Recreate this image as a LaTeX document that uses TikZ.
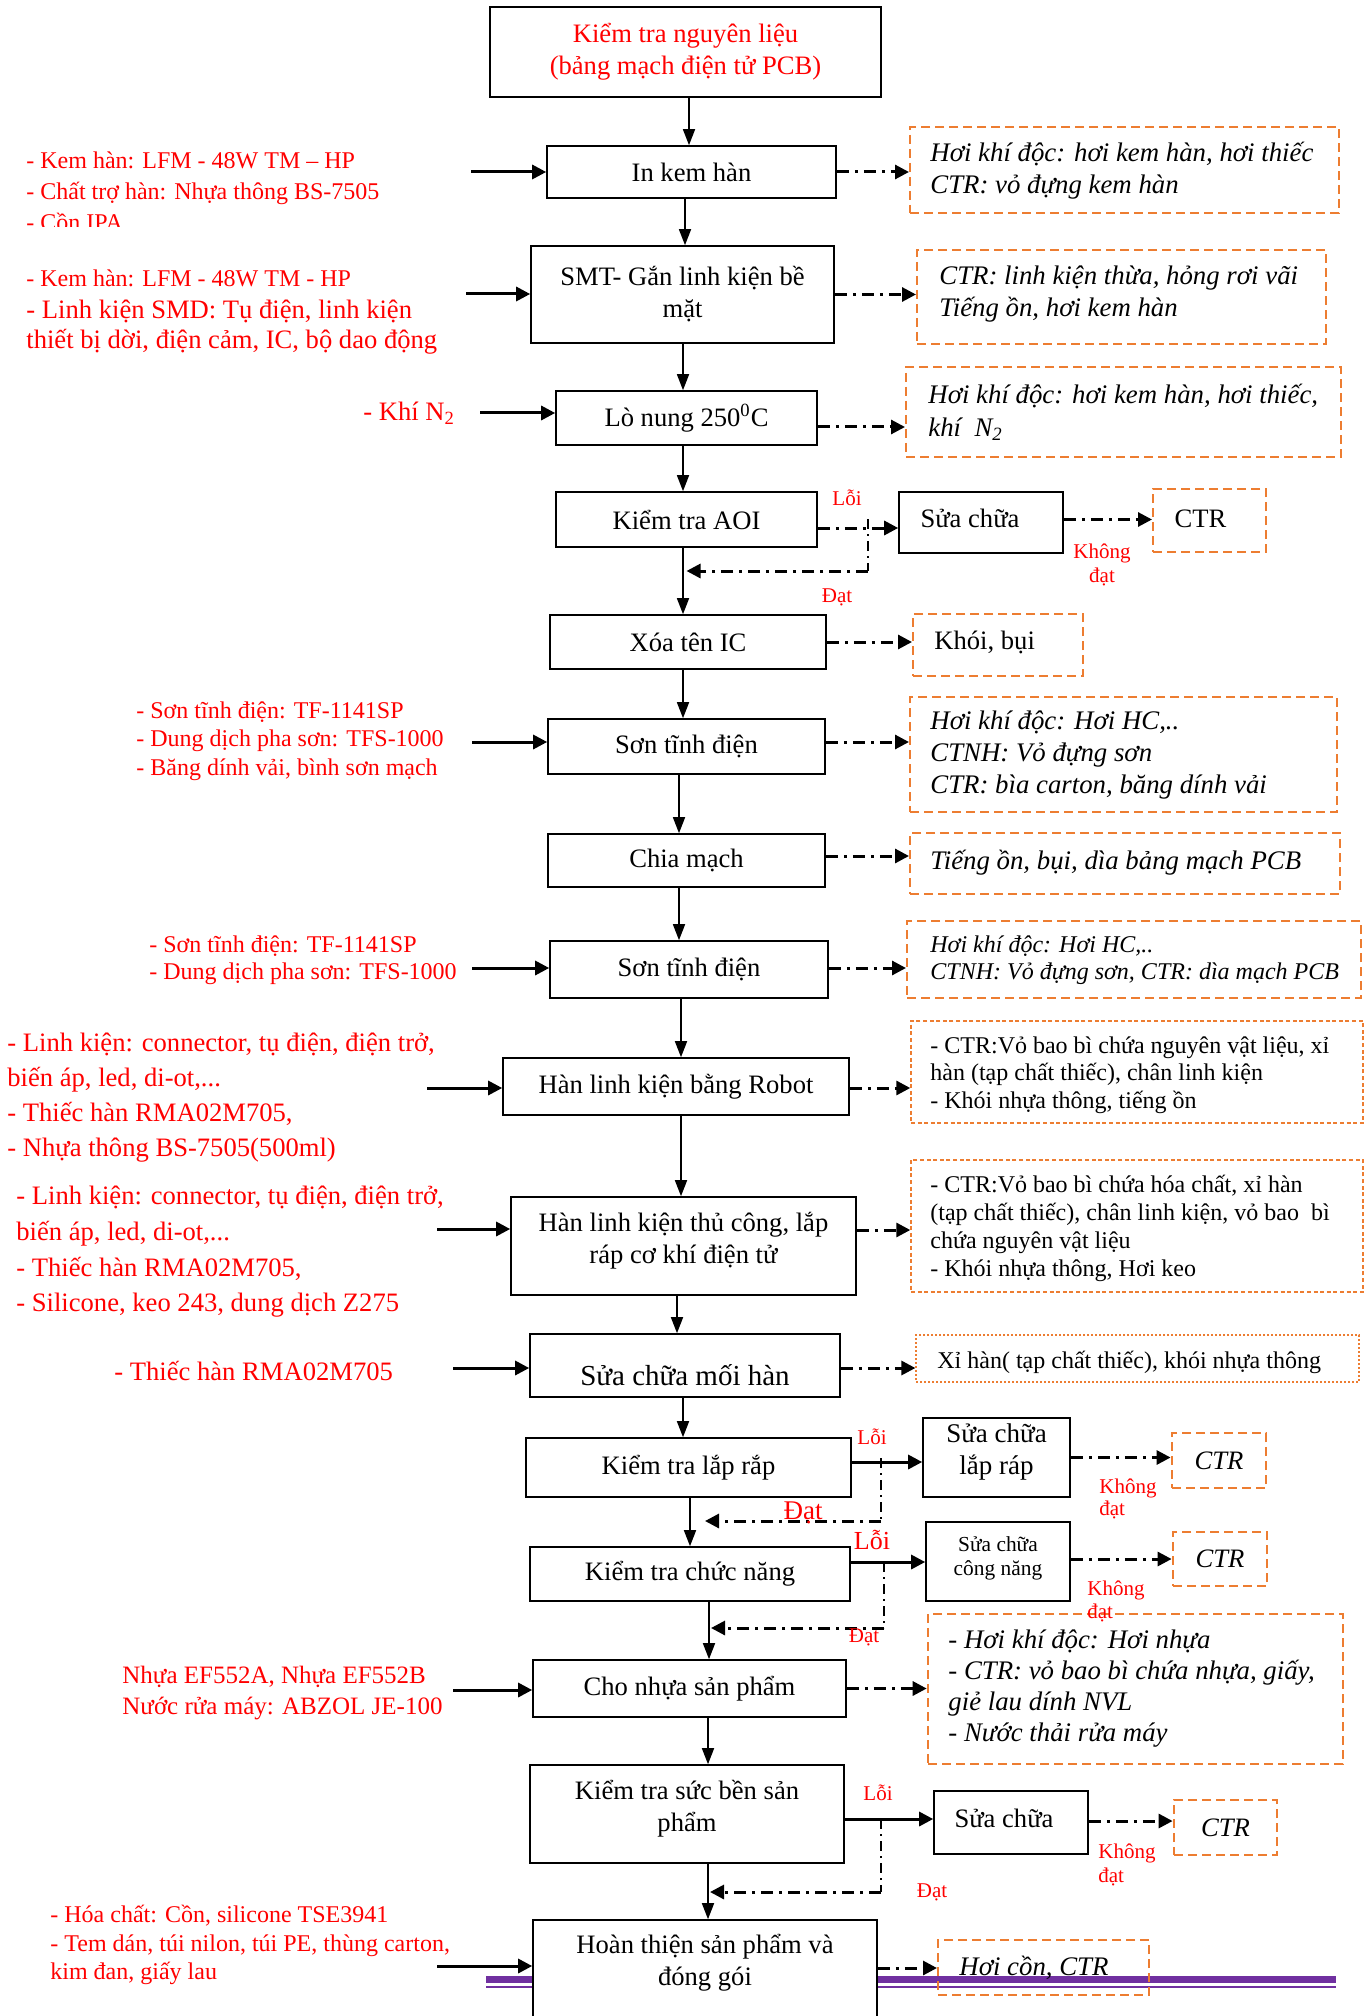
\documentclass[tikz,border=0pt]{standalone}
\usepackage{fontspec}
\setmainfont{Liberation Serif}
\usetikzlibrary{arrows.meta,fit,calc}
\definecolor{ored}{HTML}{FF0000}
\definecolor{oorange}{HTML}{ED7D31}
\definecolor{opurple}{HTML}{7030A0}
\newcommand\fMain{\fontsize{13.3}{16}\selectfont}
\newcommand\fBig{\fontsize{14.5}{17}\selectfont}
\newcommand\fOut{\fontsize{13.4}{16}\selectfont}
\newcommand\fOutS{\fontsize{12}{13.7}\selectfont}
\newcommand\fLab{\fontsize{10.5}{12}\selectfont}
\newcommand\fSmall{\fontsize{10.7}{11.7}\selectfont}
\begin{document}
\begin{tikzpicture}[x=0.5pt,y=-0.5pt,
  box/.style={draw,line width=0.8pt,fill=white,inner sep=0pt},
  btext/.style={inner sep=0pt,align=center,font=\fMain},
  obox/.style={draw=oorange,line width=1pt,dash pattern=on 4.5pt off 2.5pt,inner sep=0pt},
  cbox/.style={draw=oorange,line width=1.4pt,dash pattern=on 4.5pt off 2.5pt,inner sep=0pt},
  fbox/.style={draw=oorange,line width=0.7pt,dash pattern=on 2pt off 1.3pt,inner sep=0pt},
  dbox/.style={draw=oorange,line width=0.6pt,dash pattern=on 1pt off 1pt,inner sep=0pt},
  intext/.style={text=ored,anchor=west,align=left,inner sep=0pt},
  outtext/.style={anchor=west,align=left,inner sep=0pt,font=\fOut\itshape},
  lab/.style={text=ored,font=\fLab,inner sep=0pt,align=left},
  flow/.style={-{Triangle[width=6pt,length=8pt]},line width=0.8pt},
  feed/.style={-{Triangle[width=7pt,length=7pt]},line width=1.5pt},
  emit/.style={-{Triangle[width=7pt,length=7pt]},line width=1.5pt,dash pattern=on 6pt off 3pt on 1.5pt off 3pt},
  back/.style={line width=0.7pt,dash pattern=on 5pt off 2.5pt on 1pt off 2.5pt},
]
\fill[white] (0,0) rectangle (1365,2016);
\clip (0,0) rectangle (1365,2016);

% purple rule at the foot of the page
\fill[opurple] (486,1976) rectangle (1336,1983);
\fill[opurple] (486,1986) rectangle (1336,1988);

% ---------- process steps ----------
\node[box,fit={(490,7)(881,97)}] (b1) {};
\node[btext,text=ored] (t1) at (b1) {Kiểm tra nguyên liệu\\(bảng mạch điện tử PCB)};
\node[box,fit={(547,146)(836,198)}] (b2) {};
\node[btext] (t2) at (b2) {In kem hàn};
\node[box,fit={(531,246)(834,343)}] (b3) {};
\node[btext] (t3) at (b3) {SMT- Gắn linh kiện bề\\mặt};
\node[box,fit={(556,391)(817,445)}] (b4) {};
\node[btext] (t4) at (b4) {Lò nung 250\textsuperscript{0}C};
\node[box,fit={(556,492)(817,547)}] (b5) {};
\node[btext] (t5) at (b5) {Kiểm tra AOI};
\node[box,fit={(899,492)(1063,553)}] (b6) {};
\node[btext] (t6) at ($(b6)+(-11,-4)$) {Sửa chữa};
\node[obox,fit={(1153,489)(1266,552)}] (b7) {};
\node[btext] (t7) at ($(b7)+(-9,-2)$) {CTR};
\node[box,fit={(550,615)(826,669)}] (b8) {};
\node[btext] (t8) at (b8) {Xóa tên IC};
\node[obox,fit={(913,614)(1083,676)}] (b9) {};
\node[anchor=west,inner sep=0pt,font=\fMain] (t9) at (934,642) {Khói, bụi};
\node[box,fit={(548,719)(825,774)}] (b10) {};
\node[btext] (t10) at (b10) {Sơn tĩnh điện};
\node[box,fit={(548,834)(825,887)}] (b12) {};
\node[btext] (t12) at (b12) {Chia mạch};
\node[box,fit={(550,941)(828,998)}] (b14) {};
\node[btext] (t14) at (b14) {Sơn tĩnh điện};
\node[box,fit={(503,1058)(849,1115)}] (b16) {};
\node[btext] (t16) at (b16) {Hàn linh kiện bằng Robot};
\node[box,fit={(511,1197)(856,1295)}] (b18) {};
\node[btext] (t18) at ($(b18)+(0,-5)$) {Hàn linh kiện thủ công, lắp\\ráp cơ khí điện tử};
\node[box,fit={(530,1334)(840,1397)}] (b20) {};
\node[btext,font=\fBig] (t20) at (685,1375) {Sửa chữa mối hàn};
\node[box,fit={(526,1438)(851,1497)}] (b22) {};
\node[btext] (t22) at (b22) {Kiểm tra lắp rắp};
\node[box,fit={(923,1418)(1070,1497)}] (b23) {};
\node[btext,font=\fontsize{13.5}{16}\selectfont] (t23) at ($(b23)+(0,-6)$) {Sửa chữa\\lắp ráp};
\node[cbox,fit={(1172,1433)(1266,1488)}] (b24) {};
\node[btext,font=\fMain\itshape] (t24) at (b24) {CTR};
\node[box,fit={(530,1547)(850,1601)}] (b25) {};
\node[btext] (t25) at (b25) {Kiểm tra chức năng};
\node[box,fit={(926,1522)(1070,1601)}] (b26) {};
\node[btext,font=\fSmall] (t26) at ($(b26)+(0,-3)$) {Sửa chữa\\công năng};
\node[cbox,fit={(1173,1532)(1267,1586)}] (b27) {};
\node[btext,font=\fMain\itshape] (t27) at (b27) {CTR};
\node[box,fit={(533,1660)(846,1717)}] (b28) {};
\node[btext] (t28) at (b28) {Cho nhựa sản phẩm};
\node[box,fit={(530,1765)(844,1863)}] (b30) {};
\node[btext] (t30) at ($(b30)+(0,-5)$) {Kiểm tra sức bền sản\\phẩm};
\node[box,fit={(934,1791)(1088,1854)}] (b31) {};
\node[btext] (t31) at ($(b31)+(-7,-4)$) {Sửa chữa};
\node[cbox,fit={(1174,1800)(1277,1855)}] (b32) {};
\node[btext,font=\fMain\itshape] (t32) at (b32) {CTR};
\node[box,fit={(533,1920)(877,2030)}] (b33) {};
\node[btext] (t33) at (705,1963) {Hoàn thiện sản phẩm và\\đóng gói};

% ---------- emissions ----------
\node[obox,fit={(910,127)(1339,213)}] (o2) {};
\node[outtext] (p2) at (930,171) {Hơi khí độc: hơi kem hàn, hơi thiếc\\CTR: vỏ đựng kem hàn};
\node[obox,fit={(917,250)(1326,344)}] (o3) {};
\node[outtext] (p3) at (939,294) {CTR: linh kiện thừa, hỏng rơi vãi\\Tiếng ồn, hơi kem hàn};
\node[obox,fit={(906,367)(1341,457)}] (o4) {};
\node[outtext,font=\fontsize{13.4}{16.5}\selectfont\itshape] (p4) at (928,412) {Hơi khí độc: hơi kem hàn, hơi thiếc,\\khí \ N\textsubscript{2}};
\node[obox,fit={(910,697)(1337,812)}] (o10) {};
\node[outtext] (p10) at (930,755) {Hơi khí độc: Hơi HC,..\\CTNH: Vỏ đựng sơn\\CTR: bìa carton, băng dính vải};
\node[obox,fit={(910,833)(1340,894)}] (o12) {};
\node[outtext] (p12) at (930,863) {Tiếng ồn, bụi, dìa bảng mạch PCB};
\node[obox,fit={(907,921)(1361,998)}] (o14) {};
\node[outtext,font=\fOutS\itshape] (p14) at (930,960) {Hơi khí độc: Hơi HC,..\\CTNH: Vỏ đựng sơn, CTR: dìa mạch PCB};
\node[fbox,fit={(911,1021)(1363,1123)}] (o16) {};
\node[outtext,font=\fOutS] (p16) at (930,1075) {- CTR:Vỏ bao bì chứa nguyên vật liệu, xỉ\\hàn (tạp chất thiếc), chân linh kiện\\- Khói nhựa thông, tiếng ồn};
\node[fbox,fit={(911,1160)(1363,1292)}] (o18) {};
\node[outtext,font=\fontsize{12}{14}\selectfont] (p18) at (930,1228) {- CTR:Vỏ bao bì chứa hóa chất, xỉ hàn\\(tạp chất thiếc), chân linh kiện, vỏ bao \ bì\\chứa nguyên vật liệu\\- Khói nhựa thông, Hơi keo};
\node[dbox,fit={(916,1335)(1359,1382)}] (o20) {};
\node[outtext,font=\fOutS] (p20) at (937,1362) {Xỉ hàn( tạp chất thiếc), khói nhựa thông};
\node[obox,line width=1.3pt,fit={(928,1614)(1343,1764)}] (o28) {};
\node[outtext,font=\fontsize{13.4}{15.5}\selectfont\itshape] (p28) at (948,1689) {- Hơi khí độc: Hơi nhựa\\- CTR: vỏ bao bì chứa nhựa, giấy,\\giẻ lau dính NVL\\- Nước thải rửa máy};
\node[obox,fit={(938,1940)(1149,1995)}] (o33) {};
\node[outtext] (p33) at (959,1968) {Hơi cồn, CTR};

% ---------- inputs ----------
\begin{scope}
\clip (0,0) rectangle (540,227);
\node[intext,font=\fontsize{12}{15.5}\selectfont] (nA) at (26,191) {- Kem hàn: LFM - 48W TM – HP\\- Chất trợ hàn: Nhựa thông BS-7505\\- Cồn IPA};
\end{scope}
\node[intext,font=\fontsize{12}{15}\selectfont] (nB1) at (26,278) {- Kem hàn: LFM - 48W TM - HP};
\node[intext,font=\fontsize{13.3}{15}\selectfont] (nB2) at (26,327) {- Linh kiện SMD: Tụ điện, linh kiện\\thiết bị dời, điện cảm, IC, bộ dao động};
\node[intext,font=\fMain] (nC) at (363,413) {- Khí N\textsubscript{2}};
\node[intext,font=\fontsize{12}{14.3}\selectfont] (nD) at (136,741) {- Sơn tĩnh điện: TF-1141SP\\- Dung dịch pha sơn: TFS-1000\\- Băng dính vải, bình sơn mạch};
\node[intext,font=\fontsize{12}{13.7}\selectfont] (nE) at (149,960) {- Sơn tĩnh điện: TF-1141SP\\- Dung dịch pha sơn: TFS-1000};
\node[intext,font=\fontsize{13.3}{17.5}\selectfont] (nF) at (7,1098) {- Linh kiện: connector, tụ điện, điện trở,\\biến áp, led, di-ot,...\\- Thiếc hàn RMA02M705,\\- Nhựa thông BS-7505(500ml)};
\node[intext,font=\fontsize{13.3}{17.8}\selectfont] (nG) at (16,1252) {- Linh kiện: connector, tụ điện, điện trở,\\biến áp, led, di-ot,...\\- Thiếc hàn RMA02M705,\\- Silicone, keo 243, dung dịch Z275};
\node[intext,font=\fMain] (nH) at (114,1371) {- Thiếc hàn RMA02M705};
\node[intext,font=\fontsize{12.5}{15.8}\selectfont] (nI) at (122,1693) {Nhựa EF552A, Nhựa EF552B\\Nước rửa máy: ABZOL JE-100};
\node[intext,font=\fontsize{12}{14.3}\selectfont] (nJ) at (50,1945) {- Hóa chất: Cồn, silicone TSE3941\\- Tem dán, túi nilon, túi PE, thùng carton,\\kim đan, giấy lau};

\coordinate (iA) at (471,172);
\coordinate (iB) at (466,294);
\coordinate (iC) at (480,413);
\coordinate (iD) at (472,742);
\coordinate (iE) at (472,968);
\coordinate (iF) at (427,1088);
\coordinate (iG) at (437,1229);
\coordinate (iH) at (453,1368);
\coordinate (iI) at (453,1690);
\coordinate (iJ) at (437,1966);
\draw[feed] (iA) -- (iA -| b2.west);
\draw[feed] (iB) -- (iB -| b3.west);
\draw[feed] (iC) -- (iC -| b4.west);
\draw[feed] (iD) -- (iD -| b10.west);
\draw[feed] (iE) -- (iE -| b14.west);
\draw[feed] (iF) -- (iF -| b16.west);
\draw[feed] (iG) -- (iG -| b18.west);
\draw[feed] (iH) -- (iH -| b20.west);
\draw[feed] (iI) -- (iI -| b28.west);
\draw[feed] (iJ) -- (iJ -| b33.west);

% ---------- main flow ----------
\draw[flow] ($(b1.south)+(3.5,0)$) -- ($(b2.north)+(-2.5,0)$);
\draw[flow] ($(b2.south)+(-6.5,0)$) -- ($(b3.north)+(2.5,0)$);
\draw[flow] ($(b3.south)+(0.5,0)$) -- ($(b4.north)+(-3.5,0)$);
\draw[flow] ($(b4.south)+(-3.5,0)$) -- ($(b5.north)+(-3.5,0)$);
\draw[flow] ($(b5.south)+(-3.5,0)$) -- ($(b8.north)+(-5,0)$);
\draw[flow] ($(b8.south)+(-5,0)$) -- ($(b10.north)+(-3.5,0)$);
\draw[flow] ($(b10.south)+(-7.5,0)$) -- ($(b12.north)+(-7.5,0)$);
\draw[flow] ($(b12.south)+(-7.5,0)$) -- ($(b14.north)+(-10,0)$);
\draw[flow] ($(b14.south)+(-8,0)$) -- ($(b16.north)+(5,0)$);
\draw[flow] ($(b16.south)+(5,0)$) -- ($(b18.north)+(-2.5,0)$);
\draw[flow] ($(b18.south)+(-6.5,0)$) -- ($(b20.north)+(-8,0)$);
\draw[flow] ($(b20.south)+(-2,0)$) -- ($(b22.north)+(-5.5,0)$);
\draw[flow] ($(b22.south)+(1.5,0)$) -- (b25.north);
\draw[flow] ($(b25.south)+(19,0)$) -- ($(b28.north)+(19.5,0)$);
\draw[flow] ($(b28.south)+(18.5,0)$) -- ($(b30.north)+(21,0)$);
\draw[flow] ($(b30.south)+(21,0)$) -- ($(b33.north)+(3,0)$);

% ---------- emission arrows ----------
\draw[emit] (b2.east) -- (b2.east -| o2.west);
\draw[emit] (b3.east) -- (b3.east -| o3.west);
\draw[emit] ($(b4.east)+(0,9)$) coordinate (e4) -- (e4 -| o4.west);
\draw[emit] ($(b5.east)+(0,8.5)$) coordinate (e5) -- (e5 -| b6.west);
\draw[emit] ($(b6.east)+(0,-3)$) coordinate (e6) -- (e6 -| b7.west);
\draw[emit] (b8.east) -- (b8.east -| b9.west);
\draw[emit] ($(b10.east)+(0,-4.5)$) coordinate (e10) -- (e10 -| o10.west);
\draw[emit] ($(b12.east)+(0,-4.5)$) coordinate (e12) -- (e12 -| o12.west);
\draw[emit] ($(b14.east)+(0,-1.5)$) coordinate (e14) -- (e14 -| o14.west);
\draw[emit] ($(b16.east)+(0,1.5)$) coordinate (e16) -- (e16 -| o16.west);
\draw[emit] ($(b18.east)+(0,-16)$) coordinate (e18) -- (e18 -| o18.west);
\draw[emit] ($(b20.east)+(0,2.5)$) coordinate (e20) -- (e20 -| o20.west);
\draw[emit] (b23.east) -- (b23.east -| b24.west);
\draw[emit] ($(b26.east)+(0,-2.5)$) coordinate (e26) -- (e26 -| b27.west);
\draw[emit] (b28.east) -- (b28.east -| o28.west);
\draw[emit] ($(b31.east)+(0,-1.5)$) coordinate (e31) -- (e31 -| b32.west);
\draw[emit] (b33.east |- p33.west) -- (o33.west |- p33.west);

% ---------- repair loops ----------
\draw[feed] ($(b22.east)+(0,-5.5)$) coordinate (e22) -- (e22 -| b23.west);
\draw[feed] ($(b25.east)+(0,-12)$) coordinate (e25) -- (e25 -| b26.west);
\draw[feed] ($(b30.east)+(0,5)$) coordinate (e30) -- (e30 -| b31.west);

\coordinate (r5a) at (868,519);
\coordinate (r5b) at (868,571);
\draw[back] (r5a) -- (r5b);
\draw[emit] (r5b) -- (r5b -| b5.south);

\coordinate (r22a) at (881,1458);
\coordinate (r22b) at (881,1521);
\coordinate (r22c) at (705,1521);
\draw[back] (r22a) -- (r22b);
\draw[emit] (r22b) -- (r22c);

\coordinate (r25a) at (884,1562);
\coordinate (r25b) at (884,1628);
\coordinate (r25c) at (711,1628);
\draw[back] (r25a) -- (r25b);
\draw[emit] (r25b) -- (r25c);

\coordinate (r30a) at (881,1819);
\coordinate (r30b) at (881,1892);
\coordinate (r30c) at (710,1892);
\draw[back] (r30a) -- (r30b);
\draw[emit] (r30b) -- (r30c);

% ---------- decision labels ----------
\node[lab] (l5) at (847,498) {Lỗi};
\node[lab] (d5) at (837,597) {Đạt};
\node[lab,align=center] (k5) at (1102,565) {Không\\đạt};
\node[lab] (l22) at (872,1437) {Lỗi};
\node[lab,font=\fontsize{13.5}{16}\selectfont] (d22) at (803,1513) {Đạt};
\node[lab,anchor=west,font=\fontsize{10.5}{11}\selectfont] (k22) at (1099,1499) {Không\\đạt};
\node[lab,font=\fontsize{13}{16}\selectfont] (l25) at (872,1540) {Lỗi};
\node[lab] (d25) at (864,1637) {Đạt};
\node[lab,anchor=west,font=\fontsize{10.5}{11.5}\selectfont] (k25) at (1087,1601) {Không\\đạt};
\node[lab] (l30) at (878,1793) {Lỗi};
\node[lab] (d30) at (932,1892) {Đạt};
\node[lab,anchor=west] (k30) at (1098,1865) {Không\\đạt};
\end{tikzpicture}
\end{document}
